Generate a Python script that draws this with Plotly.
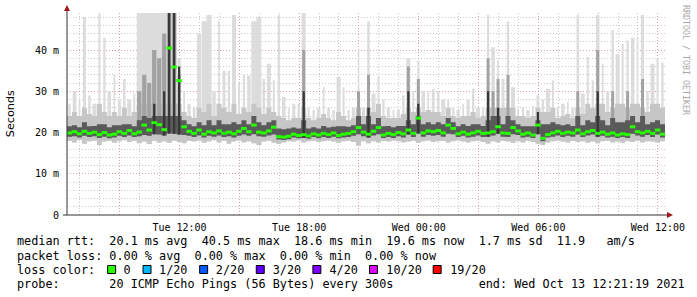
import datetime as dt
import plotly.graph_objects as go

# ---------------- data (15-minute bins, 30 hours) ----------------
start = dt.datetime(2021, 10, 12, 6, 21, 19)
end = dt.datetime(2021, 10, 13, 12, 21, 19)
bin_minutes = 15

median = [
    19.9, 20.2, 19.7, 20.3, 19.8, 20.1, 19.5, 20.0, 19.4, 19.6, 20.2, 19.8, 20.5, 19.7, 20.1,
    21.8, 20.6, 22.4, 21.9, 20.7, 40.5, 35.9, 32.6, 21.4, 20.3, 19.8, 20.6, 19.6, 20.2, 19.9,
    20.4, 19.8, 20.1, 19.7, 20.3, 21.0, 20.2, 21.8, 20.1, 19.9, 20.4, 21.3, 19.0, 18.9, 19.1,
    19.6, 19.3, 19.5, 19.2, 19.7, 19.4, 19.8, 19.5, 19.9, 19.3, 19.6, 19.8, 20.2, 21.2, 20.1,
    19.6, 20.3, 21.2, 19.4, 19.8, 19.5, 20.0, 19.7, 20.6, 19.8, 23.5, 19.9, 20.4, 20.2, 20.5,
    19.9, 21.8, 21.0, 19.7, 20.1, 19.6, 19.9, 20.3, 19.8, 19.9, 20.2, 21.4, 19.9, 19.8, 21.2,
    20.4, 19.6, 19.9, 19.4, 21.8, 18.6, 19.5, 19.9, 20.3, 19.8, 20.1, 19.9, 20.6, 19.7, 20.2,
    20.5, 19.8, 20.1, 19.6, 19.9, 19.4, 19.7, 19.5, 21.4, 20.2, 19.9, 20.3, 19.8, 20.6, 19.6,
]
smoke_max = [
    27, 30, 28, 48, 29, 27, 49, 43, 30, 34, 28, 33, 28, 29.5, 49,
    49, 49, 49, 49, 49, 49, 49, 38, 30, 27, 26, 44, 47, 48.5, 30,
    47, 35, 35, 48.5, 32, 34, 33.8, 47, 48, 33, 36.7, 32.7, 48.5, 28.6, 26,
    27, 27, 49, 26, 25.5, 26, 31, 26, 25.5, 33.5, 31, 25.5, 26, 40, 26,
    47, 29.5, 33.5, 28, 26, 25.5, 25.5, 29, 38, 30, 37.5, 30, 30, 30.5, 30,
    28, 28, 26, 25.5, 27, 28, 30.6, 26, 26, 48.5, 40.7, 37.5, 33, 47, 31,
    25.8, 26, 25.5, 26.5, 29, 28, 30.6, 32.6, 26, 27, 27.5, 26, 48.5, 29.5, 38.4,
    32.6, 48.5, 36.7, 30, 44.8, 39, 41.5, 42.3, 43, 43, 48.5, 30, 36.7, 38, 37,
]
smoke_upper = [
    24, 25, 24, 26, 24.5, 24, 27, 25, 24, 25, 24, 26, 24, 25, 27,
    27, 27, 27, 27, 27, 27, 27, 27, 25, 24, 23.5, 26, 25, 27, 24,
    27, 26, 25, 27, 24.5, 26, 25, 27, 26, 24.5, 26, 25, 24, 23.5, 23,
    23.5, 23.5, 26, 23.5, 23, 23.5, 24.5, 23.5, 23, 25, 24, 23, 23.5, 26, 24,
    26, 25, 27, 24, 23.5, 23.5, 23.5, 24.5, 26, 25, 26, 25, 25.5, 25, 25,
    24, 26, 24, 23.5, 24, 24, 25, 23.5, 24, 26, 26, 26, 26, 26, 26,
    24, 24, 23.5, 24, 26, 25, 25, 26, 23.5, 24, 24.5, 23.5, 26, 24.5, 27,
    26, 27, 27, 25, 26, 27, 27, 26, 27, 27, 26, 25, 27, 27, 26,
]
smoke_high = [
    21.5, 21.8, 21.3, 22.5, 21.5, 21.6, 22, 22, 21.3, 21.8, 21.8, 22, 22, 21.5, 23,
    24, 23.5, 24, 24, 24, 24, 24, 24, 23, 22, 21.5, 22.5, 21.8, 23, 21.8,
    23, 22, 22, 22.5, 22, 23, 22, 24, 22.5, 21.8, 22.5, 23, 21, 20.8, 21,
    21.2, 21, 23, 21, 21.3, 21, 21.6, 21.2, 21.4, 21.5, 21.5, 21.4, 21.8, 24, 22,
    24, 22, 23.5, 21.5, 21.6, 21.3, 21.6, 21.6, 23, 22, 24, 22, 22.5, 22, 22.5,
    22, 23.5, 22.5, 21.5, 22, 21.6, 22, 22, 21.6, 23, 24, 24, 22, 24, 23,
    22, 21.5, 21.5, 21.5, 23, 22, 22, 22.5, 22, 21.8, 22, 21.6, 24, 21.8, 23,
    22.5, 24, 23, 21.8, 23.5, 22.5, 22.5, 23, 24, 22.5, 24, 22, 22.5, 23, 22,
]
smoke_low = [
    19.0, 19.1, 18.8, 19.2, 18.9, 19.1, 18.7, 19.0, 18.6, 18.8, 19.2, 18.9, 19.3, 18.9, 19.1,
    19.4, 19.2, 19.6, 19.5, 19.3, 19.8, 19.7, 19.5, 19.4, 19.2, 18.9, 19.3, 18.8, 19.2, 19.0,
    19.3, 18.9, 19.1, 18.8, 19.2, 19.5, 19.2, 19.6, 19.1, 19.0, 19.3, 19.5, 18.3, 18.2, 18.4,
    18.8, 18.6, 18.7, 18.5, 18.9, 18.6, 18.9, 18.7, 19.0, 18.6, 18.8, 18.9, 19.2, 19.6, 19.1,
    18.8, 19.3, 19.6, 18.7, 18.9, 18.7, 19.1, 18.8, 19.5, 18.9, 19.8, 19.0, 19.4, 19.2, 19.4,
    19.0, 19.7, 19.6, 18.9, 19.2, 18.8, 19.0, 19.3, 18.9, 19.0, 19.3, 19.7, 19.0, 18.9, 19.6,
    19.4, 18.8, 19.0, 18.7, 19.6, 17.9, 18.8, 19.0, 19.3, 18.9, 19.2, 19.0, 19.5, 18.9, 19.3,
    19.5, 19.0, 19.2, 18.8, 19.0, 18.7, 18.9, 18.7, 19.7, 19.3, 19.0, 19.4, 18.9, 19.5, 18.8,
]
smoke_min = [
    18.0, 17.6, 18.2, 17.3, 17.9, 18.1, 17.0, 17.8, 18.0, 17.5, 17.9, 18.2, 17.7, 18.0, 17.4,
    17.8, 17.2, 18.0, 17.6, 17.9, 17.5, 18.1, 17.7, 17.4, 18.0, 17.8, 18.1, 17.5, 17.9, 18.2,
    17.6, 18.0, 17.3, 17.8, 18.1, 17.6, 17.9, 17.4, 17.0, 17.8, 18.0, 17.5, 17.2, 17.6, 17.9,
    17.8, 18.1, 17.6, 17.9, 18.0, 17.7, 17.9, 18.1, 17.8, 17.5, 17.9, 18.0, 17.7, 16.8, 17.9,
    17.4, 17.9, 17.6, 18.0, 17.8, 18.1, 17.9, 17.6, 17.8, 18.0, 17.5, 17.9, 18.1, 17.7, 17.9,
    18.0, 17.6, 17.9, 18.1, 17.8, 17.6, 17.9, 18.0, 17.7, 17.3, 17.9, 17.6, 18.0, 17.8, 17.5,
    17.9, 17.6, 18.0, 17.7, 17.3, 17.0, 17.6, 17.9, 18.1, 17.8, 17.6, 18.0, 17.7, 17.9, 17.5,
    17.8, 17.4, 17.9, 18.0, 17.6, 17.8, 17.5, 17.9, 17.7, 18.0, 17.6, 17.9, 17.8, 17.6, 17.9,
]
# taller medium-grey and dark-grey smoke spikes: (bin index, top in ms)
mid_spike_bins = [14, 15, 16, 17, 18, 19, 20, 21, 22, 47, 58, 60, 68, 70, 84, 85, 86, 88, 102, 106, 109, 112, 115]
mid_spike_tops = [30, 34, 32, 40, 38, 44, 49, 49, 34, 40, 30, 34, 36, 33, 38, 30, 33, 34, 30, 40, 30, 30, 33]
dark_spike_bins = [17, 19, 20, 21, 22, 47, 60, 68, 70, 84, 86, 94, 106]
dark_spike_tops = [27, 30, 49, 49, 36, 30, 26, 30, 27, 30, 26, 25, 30]

y_tick_vals = [0, 10, 20, 30, 40]
y_tick_text = ["0", "10 m", "20 m", "30 m", "40 m"]
x_label_times = ["2021-10-12 12:00", "2021-10-12 18:00", "2021-10-13 00:00", "2021-10-13 06:00", "2021-10-13 12:00"]
x_label_text = ["Tue 12:00", "Tue 18:00", "Wed 00:00", "Wed 06:00", "Wed 12:00"]
x_grid_times = ["2021-10-12 09:00", "2021-10-12 12:00", "2021-10-12 15:00", "2021-10-12 18:00",
                "2021-10-12 21:00", "2021-10-13 00:00", "2021-10-13 03:00", "2021-10-13 06:00",
                "2021-10-13 09:00", "2021-10-13 12:00"]

legend_rtt = "median rtt:  20.1 ms avg  40.5 ms max  18.6 ms min  19.6 ms now  1.7 ms sd  11.9   am/s"
legend_loss = "packet loss: 0.00 % avg  0.00 % max  0.00 % min  0.00 % now"
loss_labels = ["0", "1/20", "2/20", "3/20", "4/20", "10/20", "19/20"]
loss_colors = ["#26ff00", "#00b8ff", "#0059ff", "#5e00ff", "#7e00ff", "#dd00ff", "#ff0000"]
probe_text = "probe:       20 ICMP Echo Pings (56 Bytes) every 300s"
end_text = "end: Wed Oct 13 12:21:19 2021"
watermark = "RRDTOOL / TOBI OETIKER"

# ---------------- geometry helpers ----------------
W, H = 697, 297
L, R, T, B = 67, 30, 13, 82
PW, PH = W - L - R, H - T - B


def px(x):
    return (x - L) / PW


def py(y):
    return (T + PH - y) / PH


n = len(median)
BIN = dt.timedelta(minutes=bin_minutes)
edges = [start + BIN * k for k in range(n + 1)]
centers = [start + BIN * (k + 0.5) for k in range(n)]

# visual width of each thin smoke streak (fraction of a bin); wider where tall spikes cluster
width_cycle = [0.45, 0.7, 0.35, 0.6, 0.5, 0.8, 0.4]
spike_frac = []
for k in range(n):
    tall = smoke_max[k] >= 45
    nb = (k > 0 and smoke_max[k - 1] >= 45) or (k < n - 1 and smoke_max[k + 1] >= 45)
    spike_frac.append(1.0 if (tall and nb) else width_cycle[k % len(width_cycle)])


def step(vals):
    return list(vals) + [vals[-1]]


fig = go.Figure()


def band(lo, hi, color):
    fig.add_trace(go.Scatter(x=edges, y=step(lo), mode="lines", line=dict(width=0, shape="hv"),
                             hoverinfo="skip", showlegend=False))
    fig.add_trace(go.Scatter(x=edges, y=step(hi), mode="lines", line=dict(width=0, shape="hv"),
                             fill="tonexty", fillcolor=color, hoverinfo="skip", showlegend=False))


def spikes(bins, lo, hi, fracs, color):
    xs, ys = [], []
    for k, a, b, f in zip(bins, lo, hi, fracs):
        c = centers[k]
        x0, x1 = c - BIN * (f / 2), c + BIN * (f / 2)
        xs += [x0, x1, x1, x0, x0, None]
        ys += [a, a, b, b, a, None]
    fig.add_trace(go.Scatter(x=xs, y=ys, mode="lines", line=dict(width=0), fill="toself",
                             fillcolor=color, hoverinfo="skip", showlegend=False))


all_bins = list(range(n))
spikes(all_bins, smoke_min, smoke_max, spike_frac, "#dcdcdc")
band(smoke_min, smoke_upper, "#c6c6c6")
spikes(mid_spike_bins, [smoke_low[k] for k in mid_spike_bins], mid_spike_tops,
       [0.85 if 14 <= k <= 21 else 0.6 for k in mid_spike_bins], "#a2a2a2")
band(smoke_low, smoke_high, "#5a5a5a")
spikes(dark_spike_bins, [smoke_low[k] for k in dark_spike_bins], dark_spike_tops,
       [0.45] * len(dark_spike_bins), "#363636")

fig.add_trace(go.Scatter(x=centers, y=median, mode="markers",
                         marker=dict(symbol="line-ew", size=4, line=dict(width=3, color="#26ff00")),
                         showlegend=False, hoverinfo="skip"))

MAJ = "rgba(235,110,110,0.45)"
MIN = "rgba(150,150,150,0.5)"
mono = "DejaVu Sans Mono"

fig.update_layout(
    width=W, height=H, autosize=False,
    margin=dict(l=L, r=R, t=T, b=B, pad=0),
    paper_bgcolor="#ffffff", plot_bgcolor="#ffffff",
    showlegend=False,
    xaxis=dict(
        type="date", range=[start, end],
        tickmode="array", tickvals=x_grid_times,
        ticktext=[(x_label_text[x_label_times.index(t)] if t in x_label_times else "") for t in x_grid_times],
        showgrid=True, gridcolor=MAJ, griddash="1px,2px", gridwidth=1,
        ticks="outside", ticklen=3, tickcolor="rgba(0,0,0,0)",
        tickfont=dict(family=mono, size=10, color="#000"),
        showline=False, zeroline=False, fixedrange=True,
        minor=dict(tickmode="linear", tick0="2021-10-12 00:00", dtick=3600000,
                   showgrid=True, gridcolor=MIN, griddash="1px,2px", gridwidth=1, ticks=""),
    ),
    yaxis=dict(
        range=[0, 49], tickmode="array", tickvals=y_tick_vals, ticktext=y_tick_text,
        showgrid=True, gridcolor=MAJ, griddash="1px,2px", gridwidth=1,
        ticks="outside", ticklen=5, tickcolor="rgba(0,0,0,0)",
        tickfont=dict(family=mono, size=10, color="#000"),
        showline=False, zeroline=False, fixedrange=True,
        minor=dict(tickmode="linear", tick0=0, dtick=2, showgrid=True, gridcolor=MIN,
                   griddash="1px,2px", gridwidth=1, ticks=""),
    ),
)

shapes = []
# axes lines
shapes.append(dict(type="line", xref="paper", yref="paper", x0=0, x1=0, y0=0, y1=py(7),
                   line=dict(color="#333333", width=1)))
shapes.append(dict(type="line", xref="paper", yref="paper", x0=px(63), x1=px(673), y0=0, y1=0,
                   line=dict(color="#333333", width=1)))
# arrows
shapes.append(dict(type="path", xref="paper", yref="paper",
                   path=f"M {px(64)} {py(11)} L {px(70)} {py(11)} L {px(67)} {py(5)} Z",
                   fillcolor="#a01818", line=dict(width=0)))
shapes.append(dict(type="path", xref="paper", yref="paper",
                   path=f"M {px(669)} {py(212)} L {px(669)} {py(218)} L {px(675)} {py(215)} Z",
                   fillcolor="#a01818", line=dict(width=0)))

NB = "\u00a0"
CW = 7.1
X0 = 16
LFS = 11.8
annotations = []


def text_line(s, x, y, size=LFS, color="#000", family=mono):
    annotations.append(dict(text=s.replace(" ", NB), xref="paper", yref="paper",
                            x=px(x), y=py(y), xanchor="left", yanchor="middle",
                            showarrow=False, borderpad=0,
                            font=dict(family=family, size=size, color=color)))


text_line(legend_rtt, X0, 241)
text_line(legend_loss, X0, 255.5)

s = "loss color:  "
box_idx = []
for lab in loss_labels:
    box_idx.append(len(s))
    s += "  " + lab + "  "
text_line(s.rstrip(), X0, 269.5)
for idx, col in zip(box_idx, loss_colors):
    bx = X0 + idx * CW
    shapes.append(dict(type="rect", xref="paper", yref="paper",
                       x0=px(bx - 0.5), x1=px(bx + 7.5), y0=py(273.5), y1=py(265.5),
                       fillcolor=col, line=dict(color="#000000", width=1)))

probe_line = probe_text + " " * (65 - len(probe_text)) + end_text
text_line(probe_line, X0, 283.5)

# y-axis title
annotations.append(dict(text="Seconds", xref="paper", yref="paper", x=px(10.5), y=py(113.5),
                        xanchor="center", yanchor="middle", textangle=-90, showarrow=False,
                        font=dict(family="DejaVu Sans", size=11.2, color="#000")))
# watermark
annotations.append(dict(text=watermark.replace(" ", NB), xref="paper", yref="paper", x=px(688), y=py(60),
                        xanchor="center", yanchor="middle", textangle=90, showarrow=False,
                        font=dict(family=mono, size=8.3, color="#a8a8a8")))

fig.update_layout(shapes=shapes, annotations=annotations)

fig.write_html("out.html", config={"displayModeBar": False, "staticPlot": True})
